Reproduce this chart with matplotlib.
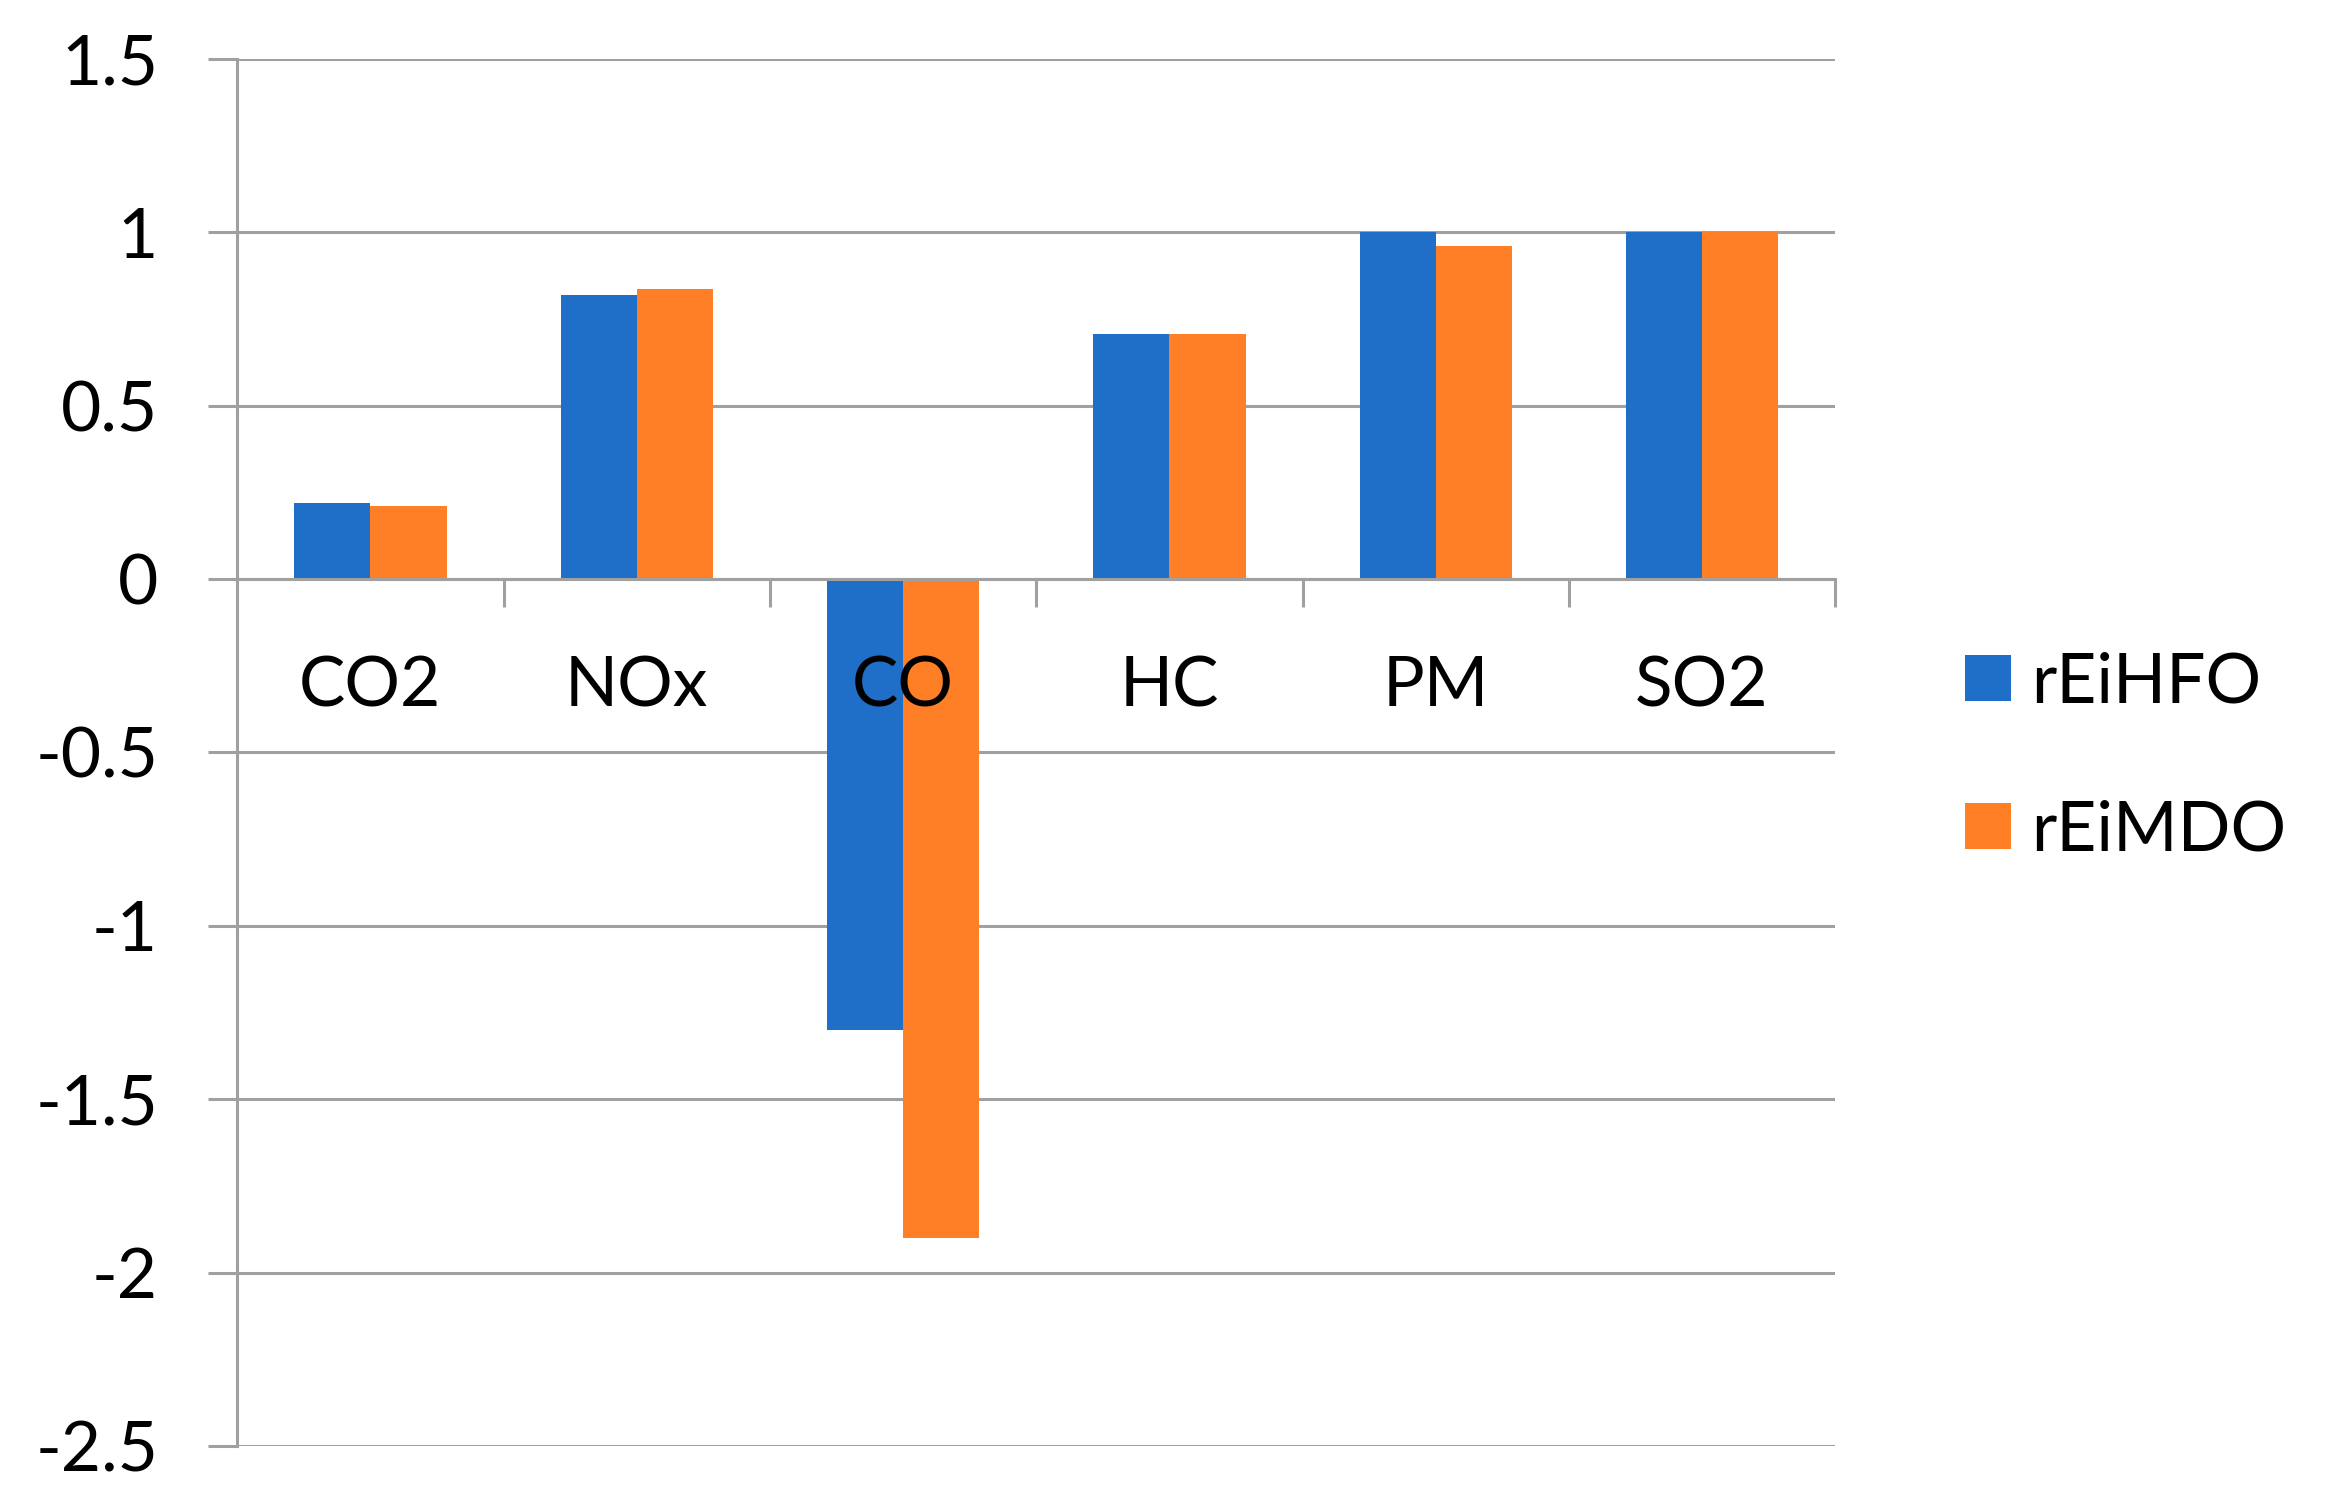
import numpy as np
import matplotlib
matplotlib.use("Agg")
import matplotlib.pyplot as plt

categories = ["CO2", "NOx", "CO", "HC", "PM", "SO2"]
rEiHFO = [0.22, 0.82, -1.30, 0.705, 1.0, 1.0]
rEiMDO = [0.21, 0.835, -1.90, 0.705, 0.96, 1.0]
yticks = [-2.5, -2, -1.5, -1, -0.5, 0, 0.5, 1, 1.5]
ytick_labels = ["-2.5", "-2", "-1.5", "-1", "-0.5", "0", "0.5", "1", "1.5"]

blue = "#1f6fc8"
orange = "#ff7f27"
gray = "#a0a0a0"

plt.rcParams['font.family'] = ['Lato', 'DejaVu Sans']

fig = plt.figure(figsize=(23.26, 15.05), dpi=100)
ax = fig.add_axes([0.102, 0.039, 0.687, 0.922])

x = np.arange(len(categories))
w = 0.286
ax.bar(x - w / 2, rEiHFO, width=w, color=blue, label="rEiHFO", zorder=2)
ax.bar(x + w / 2, rEiMDO, width=w, color=orange, label="rEiMDO", zorder=2)

# gridlines behind the bars, axis (and its labels) in front
for yv in yticks:
    ax.axhline(yv, color=gray, linewidth=2.2, zorder=1)
ax.set_axisbelow(False)

ax.set_xlim(-0.5, len(categories) - 0.5)
ax.set_ylim(-2.5, 1.5)
ax.set_yticks(yticks)
ax.set_yticklabels(ytick_labels)
ax.tick_params(axis='y', length=21, width=2.2, color=gray, pad=36,
               labelsize=50)

# category labels at centres, tick marks at the boundaries
ax.set_xticks(x)
ax.set_xticklabels(categories)
ax.set_xticks(np.arange(0.5, len(categories), 1.0), minor=True)
ax.tick_params(axis='x', which='major', length=0, pad=55, labelsize=50)
ax.tick_params(axis='x', which='minor', length=20, width=2.2, color=gray,
               direction='out')

for s in ["top", "right"]:
    ax.spines[s].set_visible(False)
ax.spines["bottom"].set_position(("data", 0))
ax.spines["bottom"].set_color(gray)
ax.spines["bottom"].set_linewidth(2.2)
ax.spines["left"].set_color(gray)
ax.spines["left"].set_linewidth(2.2)

fig.legend(loc="center left", bbox_to_anchor=(0.845, 0.497), frameon=False,
           fontsize=50, handlelength=0.65, handleheight=0.65,
           handletextpad=0.3, labelspacing=1.22, borderpad=0,
           borderaxespad=0)

fig.savefig("out.png", dpi=100)
